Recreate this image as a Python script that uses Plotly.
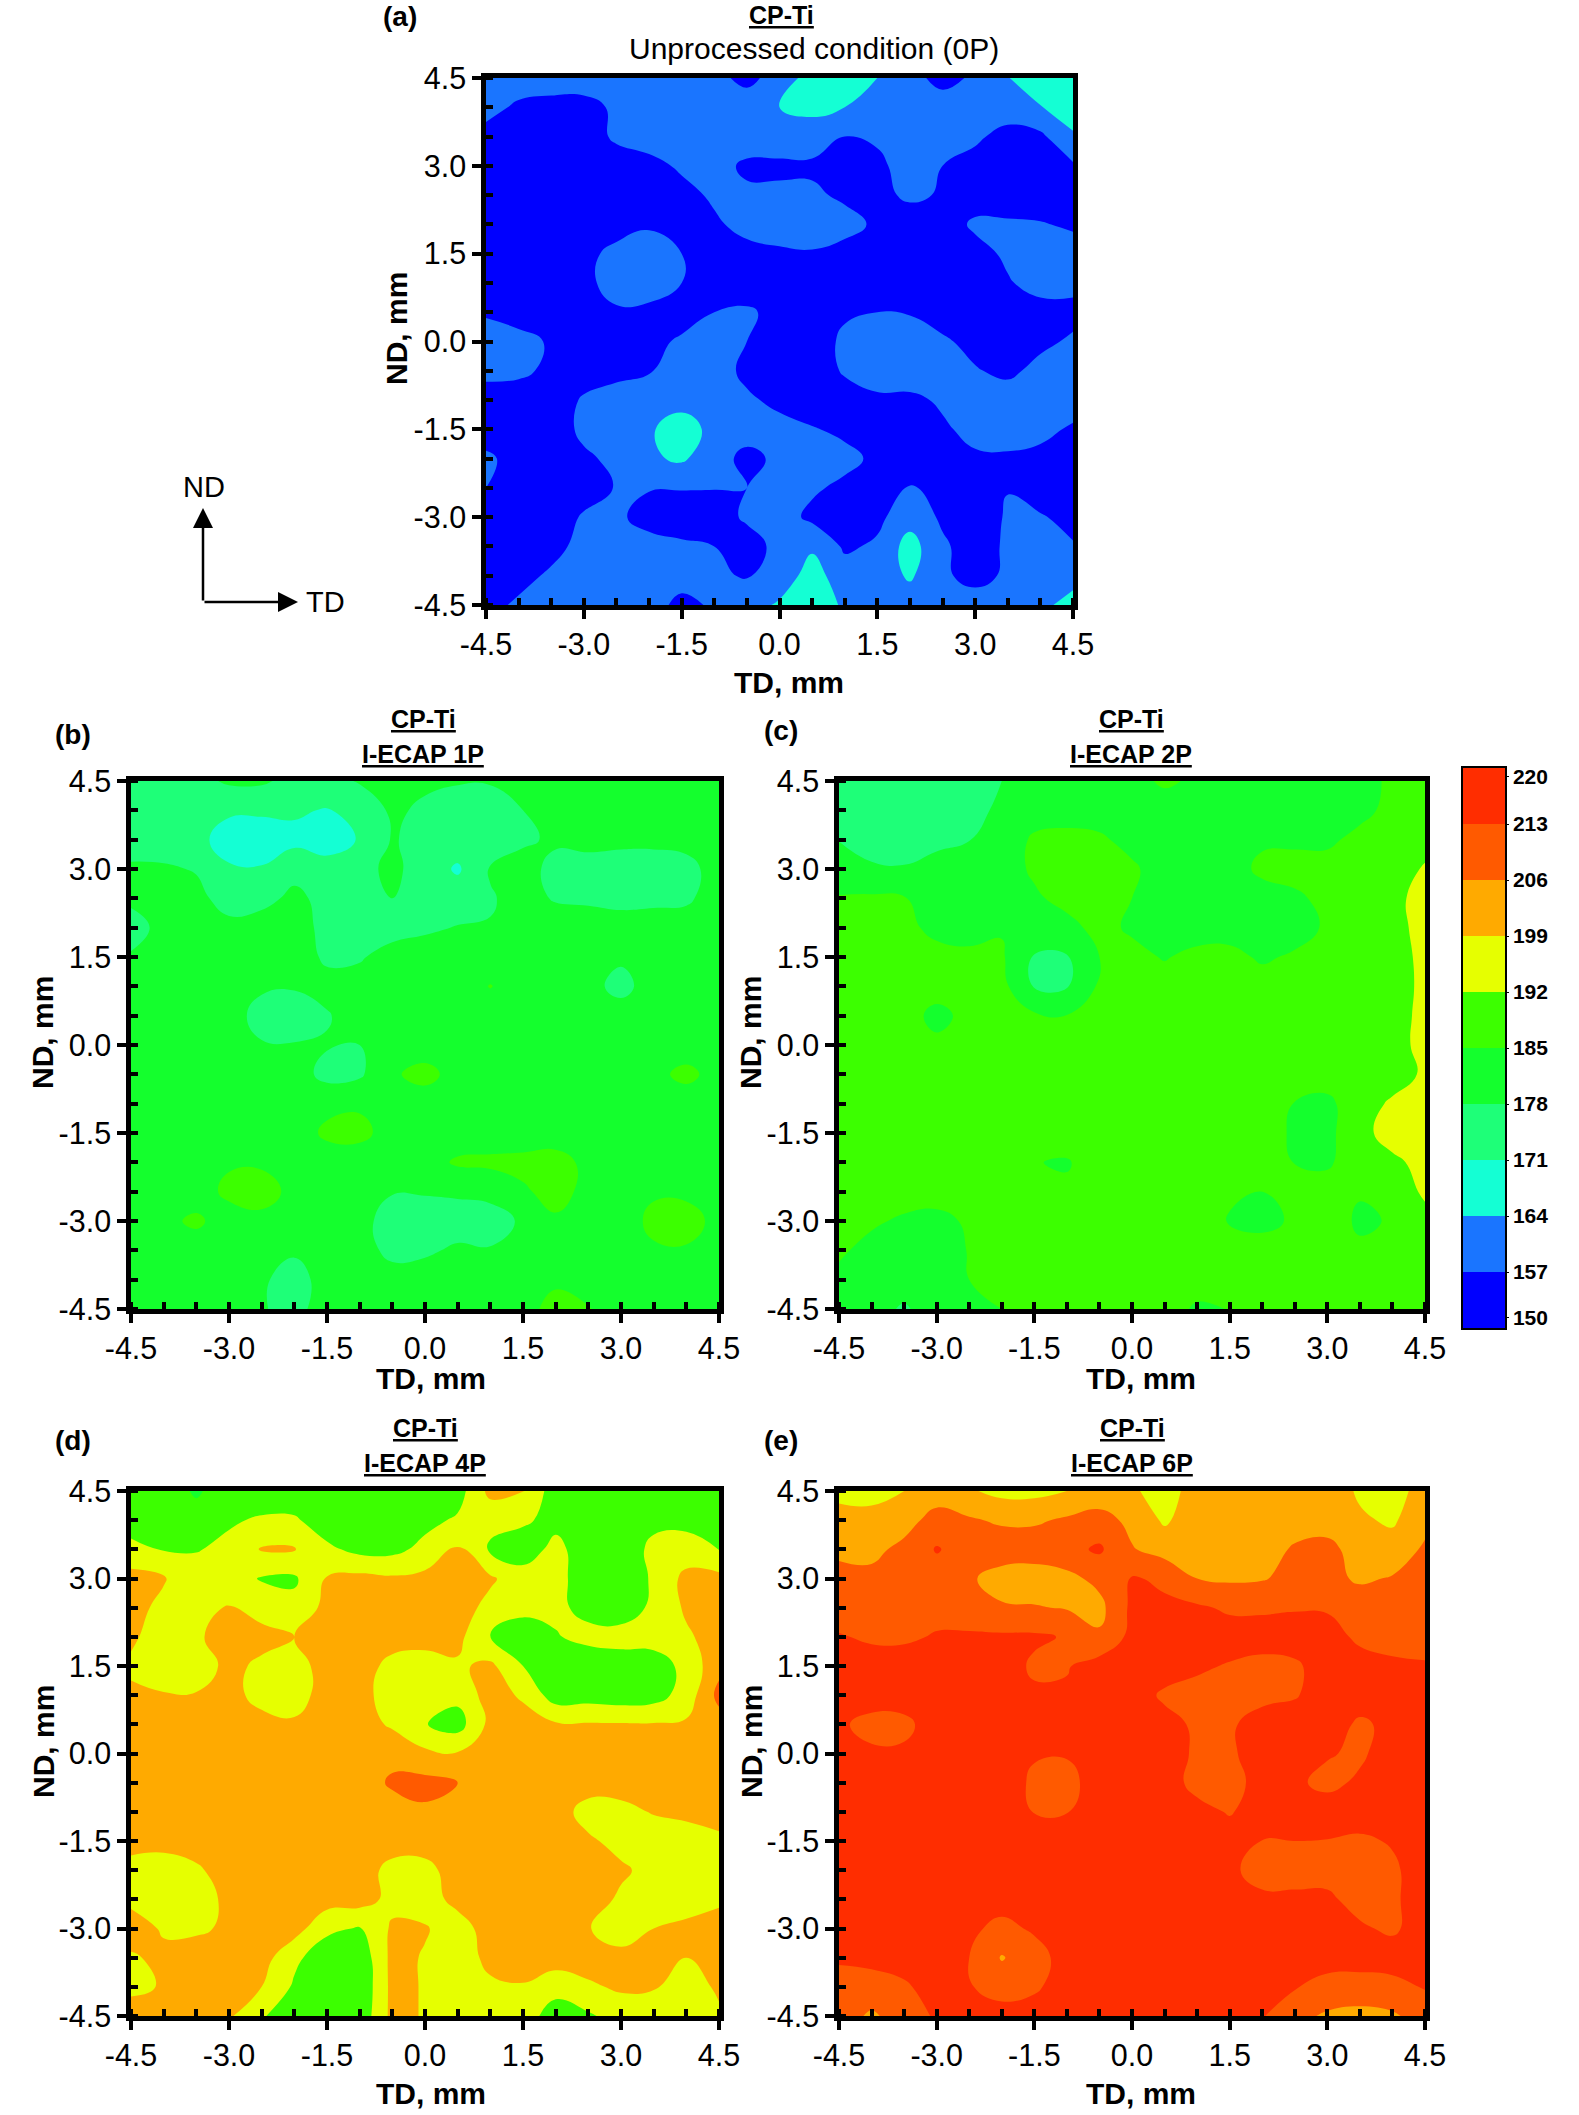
import plotly.graph_objects as go

W, H = 1579, 2115

# Measurement grid in mm
TD_MM = [-4.5, -4, -3.5, -3, -2.5, -2, -1.5, -1, -0.5, 0, 0.5, 1, 1.5, 2, 2.5, 3, 3.5, 4, 4.5]
ND_MM = [4.5, 4, 3.5, 3, 2.5, 2, 1.5, 1, 0.5, 0, -0.5, -1, -1.5, -2, -2.5, -3, -3.5, -4, -4.5]

TICK_VALUES = [-4.5, -3.0, -1.5, 0.0, 1.5, 3.0, 4.5]
TICK_LABELS = ["-4.5", "-3.0", "-1.5", "0.0", "1.5", "3.0", "4.5"]

HV_EDGES = [150, 157, 164, 171, 178, 185, 192, 199, 206, 213, 220]
HV_BAND_CENTRES = [153.5, 160.5, 167.5, 174.5, 181.5, 188.5, 195.5, 202.5, 209.5, 216.5]
HV_TICK_LABELS = ["150", "157", "164", "171", "178", "185", "192", "199", "206", "213", "220"]
BAND_COLORS = ["#0000FF", "#1A75FF", "#14FFD4", "#1EFF78", "#14FF2D",
               "#3CFF00", "#E6FF00", "#FFAA00", "#FF5A00", "#FF2D00"]

# Vickers hardness maps, rows run from ND = 4.5 down to ND = -4.5
HV_0P = [
    [160,160,160,160,160,160,160,159,155,160,167,167,164,159,155,158,163.8,167,168],
    [159,156,155,155,158,160,160,160,161,164,166,164,161,160,160,160,160,163.8,166],
    [155,154,154,154,158,160,160,160,160,160,160,157,158,160,160,158,155,155.5,163.5],
    [154,153,153,153,154,155,158,159,156,156,156,155,155.5,160,157,155,154,154,156],
    [153,152,152,152,153,154,155,158,158,158,158,156,155.5,158,156.5,154,153,153,154],
    [152,152,152,153,154,156,155,156,159,160,160,159,156,154,154,158,158,157.5,156],
    [151,151,151,155,159,161,157,154,155,156,156.5,155,153,153,153,155,158,160,160],
    [151,151,152,155,160,160,157,154,153,153,153,153,153,153,153,153,156.5,159,159],
    [156,153,152,155,156,155.5,154,157,158,155,152,156,157,156.5,154,152,154,155,155],
    [161,160,156,153,152,155,158,160,157,154,153,158.5,161,161,158,155,153,155.5,158],
    [160,159,155,153,155,156.5,160,160,155.5,153,152,158,161,161,160,157.5,155.5,159,161],
    [152,152,152,158,160,161,161,160,158,155.5,153,153,155.5,155.5,158,160,160.5,161,160.5],
    [153,152,152,159,160.5,163,168,161.5,160,159,157.5,155.5,153,153,156,159,160,159,156],
    [158.5,154,152,155.5,159,163,165,160,155,158.5,160,159,155.5,152,152,156,156,155,153],
    [157,153,151,153,157.5,157.3,157.3,157.2,157,159,158,155.5,154,157.5,155.5,152,156.7,153.5,152],
    [151,151,152,158,158,155,154,154,158,160,155.5,153,155.5,161,156,152,158,157.6,155],
    [151,152,155,159,160,159,158,157,154,159,163,156,158,167,158,154,158,160,157.5],
    [153,155,158,160,160,160,160,158,156.5,160,167,160,160,165,158,155,158,160,161],
    [155,158,160,160,160,160,155,158,161,165,168,163,160,160,160,160,160,162,167],
]

HV_1P = [
    [175,175,176,179,179,176,176,178.5,180,179,178.5,178.5,179,181,181,181,181,181,181],
    [174,174,173,172,172,172,170.5,174,179,177,175,175,178,181,181,181,181,181,181],
    [175,174,173,168,167.5,169,167.5,171.5,178.5,176,175,175,177,179,179.5,179,179,179.5,181],
    [179,179,177.5,171.8,171.5,176,174,176,179.5,175,170,178.5,180.5,176,176,176,176,176.5,180],
    [179,181,180,175,176,179.5,176,175,178,175,175,177.5,180,177.5,177,176,176.5,177,181],
    [176,179.5,181,180,181,181,176,175,176,177,178.3,178.3,179,181,181,181,181,181,181],
    [178.5,181,181,181,181,181,177,177.5,180,181,181,181,181,181,181,179,181,181,181],
    [181,181,181,181,179,178.5,180,180,181,181,181,185.3,181,181,180,176,181,181,181],
    [178.5,181,181,181,175.5,175,177.5,181,181,181,181,181,181,181,181,181,181,181,181],
    [179,181,181,181,178.5,178.3,178.5,178,181,181,181,181,181,181,181,181,181,181,181],
    [181,181,181,181,181,181,176,177,184,187.5,182,181,181,181,181,181,183,187,182],
    [181,181,181,181,181,181,183,184,181,181,181,181,181,181,181,181,181,181,181],
    [181,181,181,181,181,181,186.5,187,182,181,181,181,181,181,181,181,181,181,181],
    [181,181,181,184,184,181,181,181,181,182,186,186.5,187,188,183,181,181,181,181],
    [181,181,181,187,188,183,181,181,178.5,178.5,179,180,184,187.5,183,181,184,184,181],
    [181,183,186.5,181,183,181,181,181,174,175,175,175,179,184,181,181,187,187,183.5],
    [181,181,181,181,179.5,179,181,181,176,177,179,178.5,181,181,181,181,184,184.5,181],
    [181,181,181,181,179,175,181,181,181,181,181,181,181,184,181,181,181,181,181],
    [181,181,181,181,178.5,176,181,181,181,181,181,181,183,187,185.5,181,181,181,181],
]

HV_2P = [
    [176,176,176,176,176,178,181,182,182,183,186,184,182,182,182,182,183,186,187],
    [176,175,175,175,175.5,179.5,182,182,182,182,182,182,182,182,182,182,183.5,186.5,188],
    [177.8,175,175,176,177.8,181,186,187,186,183,182,182,182,184,184,184,186.5,188,189],
    [181,179,178.5,181,182,182,186,187,187,186,182,182,182,186.5,187,187,187,188,192.8],
    [185.5,186,185.3,183,182,182,184,187,187,185,182,182,182,182,184,186.5,188,190.5,194],
    [187,187,187,183,181.5,184.5,182,183,187,184,182,181.5,182,182,182,186,188,190,194],
    [188,188,188,187.5,187,185.8,177.5,177.5,185,187,184.5,187,187,184,186,188,188,189,193.8],
    [188,188,188,188,188,187,177.5,177.5,186,188,188,188,188,188,188,188,188,189,193.5],
    [188,188,188,183,187,188,186,185.2,188,188,188,188,188,188,188,188,188,189,194],
    [188,188,188,186.5,188,188,188,188,188,188,188,188,188,188,188,188,188,189.5,194],
    [188,188,188,188,188,188,188,188,188,188,188,188,188,188,188,188,188,189,193],
    [188,188,188,188,188,188,188,188,188,188,188,188,188,188,184.8,183.5,189,193,195],
    [188,188,188,188,188,188,188,188,188,188,188,188,188,188,184,183,190.5,194,195.5],
    [188,188,188,188,188,188,185.2,184.5,188,188,188,188,188,188,184.8,184,189,191,193.5],
    [188,188,188,188,188,188,187,186,188,188,188,188,186,185,188,188,185.5,189,192.8],
    [188,186,184,183,186,188,188,188,188,188,188,188,184.5,183,186,188,184,185.5,190.5],
    [186,183,182,182,185.3,188,188,188,188,188,188,188,188,188,188,188,186,188,188],
    [183.5,182,182,182,185,187.5,188,188,188,188,188,188,188,188,188,188,188,188,188],
    [182,181,177,182,182,185,188,188,188,188,188,184,185.2,188,188,188,188,188,188],
]

HV_4P = [
    [187,187,184.5,187,187,187,187,187,187,187,189,201,199.5,188,188,188,188,188,188],
    [187,186.5,186.5,191,193,193,188,187,187,190,193,194,193,190,188,188,190,190,187],
    [195,191.5,191.5,194,199.5,199.5,193.5,190,190,194,199.5,191,188.5,194,188,187,194,195,191.8],
    [201,199.5,196,195,191.5,191,199.5,201,200,201,203,200,195,195,187,187,193,201,201],
    [201,197.5,197,199.5,196,194,201,202,202,202,202,197,194,193.5,190,188,193.5,200,202],
    [200,196,198,202,201.5,199,202,202,202,202,201,191.5,188,191.5,194,195,195,198,202],
    [198,195,195,201,197.5,196,202,202,197,195.5,198,200.5,192,188,187.5,188,188.5,194,204],
    [200,199.5,199.5,202,196,196,202,202,195,194.5,194,202,198,188.5,189,188,189,195,208],
    [202,202,202,202,202,200,202,202,198,192.3,189,201,202,199.8,199.6,199.5,199.5,200,203],
    [202,202,202,202,202,202,202,202,204,200.5,199.5,202,202,202,202,202,202,202,202],
    [202,202,202,202,202,202,202,202.5,207,208,206,202,202,202,202,202,202,202,202],
    [202,202,202,202,202,202,202,202,203,205,205,202,202,202,196.5,197,199.5,201,202],
    [202,202,202,202,202,202,202,202,202,202,202,202,202,201,200,197,195,195,197.5],
    [196,194.5,198,202,202,202,202,202,197,197,202,202,202,202,202,200,197,195,195],
    [198,195.5,196,200.5,202,202,202,202,197,196,201,202,202,202,202,198,195,195,197.8],
    [201,198.5,198,200,202,202,193.5,191.5,200,199.5,196,202,202,202,199.5,194,199,201,202],
    [198.5,200,202,202,202,193.5,188,187,201,198.5,196,200.5,202,202,202,202,202,199,202],
    [197.5,199.5,202,202,199,191,186,186,201,198.5,195.5,198,198.5,195,198,200,199.5,196,200],
    [202,202,202,200,192.5,189,187,187,201,198.5,195,198,196,188,191,195,196,195,198],
]

HV_6P = [
    [196,196,199,202,199.8,197,197,199,201,200,196,202,203,203,203,203,198,197,201],
    [203,202,203,209,206.8,205,205,207,209,204,198,203,203,203,203,203,200,198,204],
    [204,204,208,213.5,210,210,210,211,214,206.5,203,203,203,203,206.8,208,203,202,207],
    [209,208,209,210,207,203,202,204,208,213.5,212,206,205,205.5,208,208,205,206.5,209],
    [210,210,210,211,209,206.8,206.5,205.5,204,214.5,214,214,212,212,212.5,212.5,210,210,210],
    [213.5,212,212,213.5,214,214,214,212.5,207,215,216,216,216,216,216,215,212,211,211],
    [216,216,216,216,216,216,212,212.5,216,216,216,214,212.5,211,212,216,215,214,213.5],
    [216,216,216,216,216,216,214,214,216,216,212,211,211,211,212.5,216,216,216,216],
    [214,211,211.5,216,216,216,216,216,216,216,215,212,212,216,216,216,212,214.5,216],
    [216,214,214,216,216,216,213.5,213.5,216,216,216,212,212,216,216,213.5,212,216,216],
    [216,216,216,216,216,216,212,211,216,216,216,211,211,215,214,211.5,214,216,216],
    [216,216,216,216,216,216,212.8,212.8,216,216,216,215,212.5,216,216,216,216,216,216],
    [216,216,216,216,216,216,216,216,216,216,216,216,216,212.9,213,212.8,212,213.5,216],
    [216,216,216,216,216,216,216,216,216,216,216,216,214,211,211,211,210,212,216],
    [216,216,216,216,216,216,216,216,216,216,216,216,216,214,214,214,211,212,216],
    [216,216,216,216,214.5,211,214,216,216,216,216,216,216,216,216,216,213.8,212,216],
    [214,215,216,216,213,205.5,210,216,216,216,216,216,216,216,216,216,216,216,216],
    [210,210,212,216,213.5,210,212,216,216,216,216,216,216,216,213.5,210.5,210,211,213.5],
    [209,205,209,214,216,216,216,216,216,216,216,216,216,213.5,208,205,204,205,209],
]

# Axes frames in pixels: left, right, top, bottom
PANELS = [
    (HV_0P, (486, 1073, 78, 605)),
    (HV_1P, (131, 719, 781, 1309)),
    (HV_2P, (839, 1425, 781, 1309)),
    (HV_4P, (131, 719, 1491, 2016)),
    (HV_6P, (839, 1425, 1491, 2016)),
]
KEY_FRAME = (1463, 1505, 768, 1328)


def px(x):
    return x / W


def py(y):
    return 1 - y / H


# Filled contours sample the scale at band centres, over eleven level steps
n_steps = len(BAND_COLORS) + 1
contour_scale = [[0, BAND_COLORS[0]]]
for k, color in enumerate(BAND_COLORS):
    contour_scale.append([(k + 1) / n_steps, color])
contour_scale.append([1, BAND_COLORS[-1]])

# The key uses flat steps over its ten bands
key_scale = []
for k, color in enumerate(BAND_COLORS):
    key_scale.append([k / len(BAND_COLORS), color])
    key_scale.append([(k + 1) / len(BAND_COLORS), color])

fig = go.Figure()
layout_axes = {}

for i, (grid, (left, right, top, bottom)) in enumerate(PANELS):
    suffix = "" if i == 0 else str(i + 1)
    fig.add_trace(go.Contour(
        x=TD_MM, y=ND_MM, z=grid,
        xaxis="x" + suffix, yaxis="y" + suffix,
        autocontour=False,
        contours=dict(start=HV_EDGES[0], end=HV_EDGES[-1], size=HV_EDGES[1] - HV_EDGES[0],
                      coloring="fill", showlines=False),
        line=dict(smoothing=1.3, width=0),
        colorscale=contour_scale,
        showscale=False,
        hoverinfo="skip",
    ))
    axis_common = dict(
        range=[-4.5, 4.5], tickmode="array", tickvals=TICK_VALUES, ticktext=TICK_LABELS,
        ticks="outside", ticklen=9, tickwidth=4, tickcolor="#000",
        showline=True, linewidth=4.5, linecolor="#000", mirror=True,
        showgrid=False, zeroline=False,
        tickfont=dict(family="Liberation Sans", size=30.5, color="#000"),
        minor=dict(tickmode="linear", tick0=-4.5, dtick=0.5, ticks="inside",
                   ticklen=7, tickwidth=3.5, tickcolor="#000", showgrid=False),
    )
    layout_axes["xaxis" + suffix] = dict(
        axis_common, domain=[px(left), px(right)], anchor="y" + suffix)
    layout_axes["yaxis" + suffix] = dict(
        axis_common, domain=[py(bottom), py(top)], anchor="x" + suffix)

# Hardness key, drawn as a one-column map of the ten bands
fig.add_trace(go.Heatmap(
    x=[0, 1], y=HV_EDGES, z=[[v] for v in HV_BAND_CENTRES],
    xaxis="x6", yaxis="y6",
    zmin=HV_EDGES[0], zmax=HV_EDGES[-1],
    colorscale=key_scale, showscale=False, hoverinfo="skip",
))
key_left, key_right, key_top, key_bottom = KEY_FRAME
layout_axes["xaxis6"] = dict(
    domain=[px(key_left), px(key_right)], anchor="y6", range=[0, 1],
    showticklabels=False, ticks="", showgrid=False, zeroline=False,
    showline=True, linewidth=1.5, linecolor="#000", mirror=True,
)
layout_axes["yaxis6"] = dict(
    domain=[py(key_bottom), py(key_top)], anchor="x6", range=[HV_EDGES[0], HV_EDGES[-1]],
    side="right", showgrid=False, zeroline=False,
    showline=True, linewidth=1.5, linecolor="#000", mirror=True,
    ticks="outside", ticklen=2, tickwidth=1, tickcolor="#000",
    tickmode="array",
    tickvals=[151.3] + HV_EDGES[1:-1] + [218.9],
    ticktext=HV_TICK_LABELS,
    tickfont=dict(family="Liberation Sans", size=21, color="#000", weight="bold"),
)

fig.update_layout(
    width=W, height=H, autosize=False,
    margin=dict(l=0, r=0, t=0, b=0, autoexpand=False),
    paper_bgcolor="#fff", plot_bgcolor="#fff",
    showlegend=False,
    **layout_axes,
)


def label(text, x, y, size, angle=0):
    fig.add_annotation(
        text=text, x=px(x), y=py(y), xref="paper", yref="paper",
        xanchor="center", yanchor="middle", showarrow=False, textangle=angle,
        font=dict(family="Liberation Sans", size=size, color="#000"),
    )


# Panel letters
for letter, x, y in [("(a)", 400, 16), ("(b)", 73, 735), ("(c)", 781, 731),
                     ("(d)", 73, 1440), ("(e)", 781, 1440)]:
    label(f"<b>{letter}</b>", x, y, 28)

# Panel headings
label("<b><u>CP-Ti</u></b>", 781, 15, 25)
label("Unprocessed condition (0P)", 814, 48, 30)
for cx, y1, y2, cond in [(423, 719, 754, "I-ECAP 1P"), (1131, 719, 754, "I-ECAP 2P"),
                         (425, 1428, 1463, "I-ECAP 4P"), (1132, 1428, 1463, "I-ECAP 6P")]:
    label("<b><u>CP-Ti</u></b>", cx, y1, 25)
    label(f"<b><u>{cond}</u></b>", cx, y2, 25)

# Axis titles
for x, y in [(789, 682), (431, 1378), (1141, 1378), (431, 2093), (1141, 2093)]:
    label("<b>TD, mm</b>", x, y, 30)
for x, y in [(396, 328), (43, 1033), (751, 1033), (43, 1742), (751, 1742)]:
    label("<b>ND, mm</b>", x, y, 30, angle=-90)

# Orientation key
ORIGIN = (203, 602)
label("ND", 204, 487, 29)
label("TD", 325, 602, 29)
for x_tip, y_tip in [(203, 508), (298, 602)]:
    fig.add_annotation(
        x=px(x_tip), y=py(y_tip), xref="paper", yref="paper",
        ax=ORIGIN[0] - x_tip, ay=ORIGIN[1] - y_tip, axref="pixel", ayref="pixel",
        text="", showarrow=True, arrowhead=2, arrowsize=1.6, arrowwidth=2.5,
        arrowcolor="#000", standoff=0,
    )

fig.write_html("out.html")
